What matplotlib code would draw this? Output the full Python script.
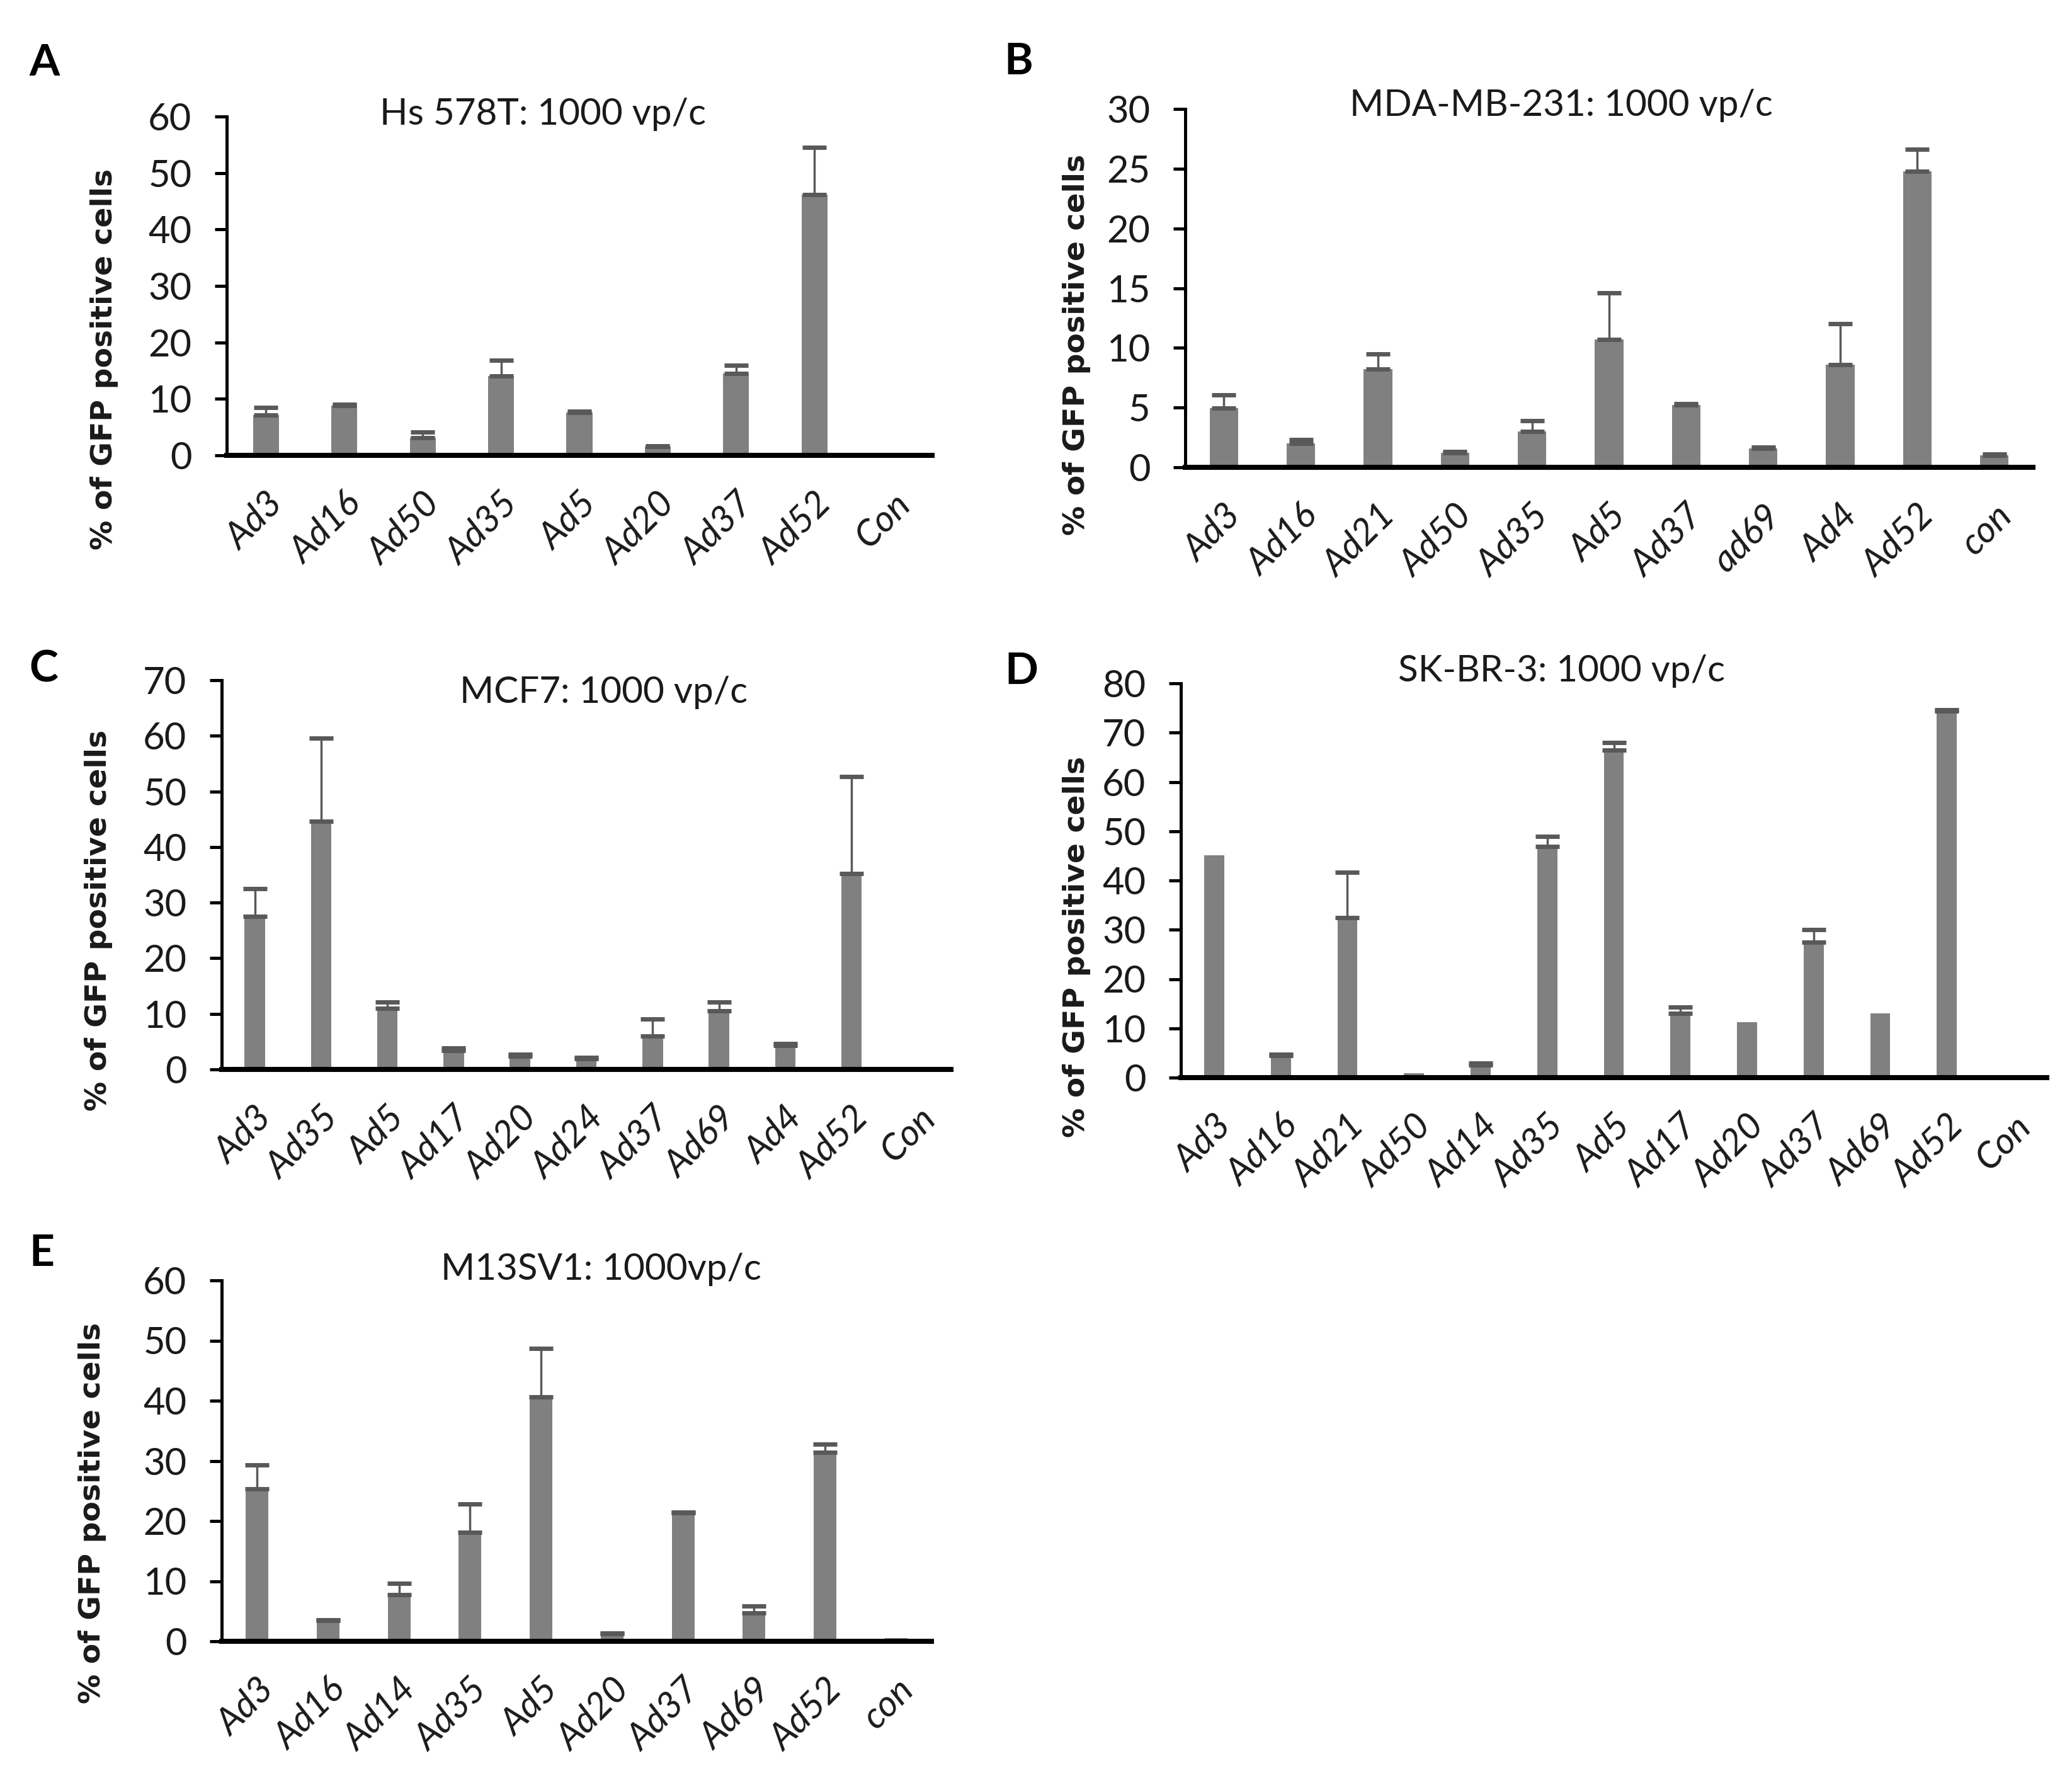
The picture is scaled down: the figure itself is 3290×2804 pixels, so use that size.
import matplotlib
matplotlib.use("Agg")
import matplotlib.pyplot as plt
from matplotlib.transforms import ScaledTranslation
import numpy as np

# panel A: Hs 578T
a_labels = ["Ad3", "Ad16", "Ad50", "Ad35", "Ad5", "Ad20", "Ad37", "Ad52", "Con"]
a_means = [7.1, 8.8, 3.1, 14.0, 7.6, 1.6, 14.5, 46.2, 0.0]
a_errs = [1.4, 0.2, 1.0, 2.8, 0.2, 0.1, 1.4, 8.3, 0.0]

# panel B: MDA-MB-231
b_labels = ["Ad3", "Ad16", "Ad21", "Ad50", "Ad35", "Ad5", "Ad37", "ad69", "Ad4", "Ad52", "con"]
b_means = [4.95, 2.0, 8.2, 1.2, 3.0, 10.7, 5.2, 1.6, 8.6, 24.8, 1.0]
b_errs = [1.1, 0.3, 1.3, 0.1, 0.9, 3.9, 0.1, 0.1, 3.4, 1.8, 0.1]

# panel C: MCF7
c_labels = ["Ad3", "Ad35", "Ad5", "Ad17", "Ad20", "Ad24", "Ad37", "Ad69", "Ad4", "Ad52", "Con"]
c_means = [27.5, 44.6, 11.0, 3.4, 2.4, 1.9, 6.0, 10.5, 4.3, 35.2, 0.0]
c_errs = [5.0, 15.0, 1.1, 0.4, 0.3, 0.3, 3.1, 1.6, 0.4, 17.5, 0.0]

# panel D: SK-BR-3
d_labels = ["Ad3", "Ad16", "Ad21", "Ad50", "Ad14", "Ad35", "Ad5", "Ad17", "Ad20", "Ad37",
            "Ad69", "Ad52", "Con"]
d_means = [45.1, 4.5, 32.5, 0.9, 2.6, 46.9, 66.4, 13.0, 11.2, 27.5, 13.0, 74.4, 0.0]
d_errs = [0.0, 0.2, 9.2, 0.0, 0.3, 2.1, 1.6, 1.3, 0.0, 2.5, 0.0, 0.2, 0.0]

# panel E: M13SV1
e_labels = ["Ad3", "Ad16", "Ad14", "Ad35", "Ad5", "Ad20", "Ad37", "Ad69", "Ad52", "con"]
e_means = [25.3, 3.5, 7.8, 18.1, 40.6, 1.3, 21.4, 4.7, 31.4, 0.5]
e_errs = [4.0, 0.1, 1.8, 4.7, 8.1, 0.1, 0.1, 1.2, 1.4, 0.0]

W, H = 3290, 2804
FONT = ["Lato", "DejaVu Sans"]
BAR = "#808080"
ERR = "#595959"
TXT = "#1a1a1a"


def add_panel(fig, box, letter, letter_xy, title, title_xy, ylabel_xy,
              labels, means, errs, ymax, ystep, width=0.34):
    l, t, r, b = box
    ax = fig.add_axes([l / W, 1 - b / H, (r - l) / W, (b - t) / H])
    x = np.arange(len(labels))
    means = np.array(means)
    errs = np.array(errs)
    ax.bar(x, means, width=width, color=BAR, zorder=2)
    m = errs > 0
    ax.errorbar(x[m], means[m], yerr=[np.zeros(m.sum()), errs[m]], fmt="none",
                ecolor=ERR, elinewidth=2.5, capsize=14, capthick=5, zorder=3)
    ax.set_xlim(-0.5, len(labels) - 0.5)
    ax.set_ylim(0, ymax)
    ax.set_yticks(np.arange(0, ymax + 0.1, ystep))
    ax.set_xticks(x)
    ax.set_xticklabels(labels, rotation=45, ha="right", rotation_mode="anchor",
                       fontstyle="italic", family=FONT, fontsize=42, color=TXT)
    shift = ScaledTranslation(0.14, 0, fig.dpi_scale_trans)
    for lab in ax.get_xticklabels():
        lab.set_transform(lab.get_transform() + shift)
    for lab in ax.get_yticklabels():
        lab.set_family(FONT)
        lab.set_fontsize(43)
        lab.set_color(TXT)
    ax.spines["top"].set_visible(False)
    ax.spines["right"].set_visible(False)
    ax.spines["left"].set_linewidth(3.6)
    ax.spines["bottom"].set_linewidth(5.8)
    ax.tick_params(axis="y", direction="out", length=14, width=3.6, pad=26)
    ax.tick_params(axis="x", length=0, pad=36)
    ax.set_facecolor("none")

    fig.text(ylabel_xy[0] / W, 1 - ylabel_xy[1] / H, "% of GFP positive cells",
             rotation=90, ha="center", va="center", fontsize=34,
             fontweight="bold", family="DejaVu Sans", color=TXT)
    fig.text(title_xy[0] / W, 1 - title_xy[1] / H, title, ha="center", va="center",
             fontsize=42, family=FONT, color=TXT)
    fig.text(letter_xy[0] / W, 1 - letter_xy[1] / H, letter, ha="center", va="center",
             fontsize=50, fontweight="bold", family=FONT, color="black")
    return ax


fig = plt.figure(figsize=(W / 100, H / 100), dpi=100)

add_panel(fig, (360, 185, 1480, 723), "A", (71, 100), "Hs 578T: 1000 vp/c", (862, 182),
          (166, 570), a_labels, a_means, a_errs, 60, 10, width=0.33)
add_panel(fig, (1882, 173, 3228, 742), "B", (1617, 98), "MDA-MB-231: 1000 vp/c", (2479, 168),
          (1710, 547), b_labels, b_means, b_errs, 30, 5, width=0.37)
add_panel(fig, (352, 1080, 1510, 1698), "C", (69, 1063), "MCF7: 1000 vp/c", (959, 1100),
          (157, 1461), c_labels, c_means, c_errs, 70, 10, width=0.31)
add_panel(fig, (1875, 1085, 3250, 1711), "D", (1622, 1066), "SK-BR-3: 1000 vp/c", (2479, 1066),
          (1710, 1503), d_labels, d_means, d_errs, 80, 10, width=0.30)
add_panel(fig, (352, 2033, 1479, 2606), "E", (66, 1990), "M13SV1: 1000vp/c", (954, 2015),
          (147, 2402), e_labels, e_means, e_errs, 60, 10, width=0.32)

fig.savefig("out.png", dpi=100, facecolor="white")
